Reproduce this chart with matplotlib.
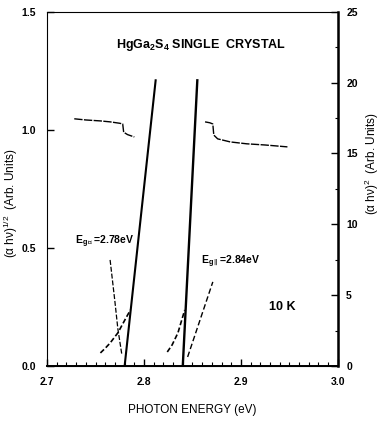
import numpy as np
import matplotlib
matplotlib.use("Agg")
from matplotlib import pyplot as plt

plt.rcParams['font.family'] = ['Liberation Sans Narrow', 'Liberation Sans', 'DejaVu Sans']
plt.rcParams['font.weight'] = 'bold'
plt.rcParams['mathtext.default'] = 'regular'

# flat spectra (left axis units)
flat1_x = [2.728, 2.740, 2.755, 2.765, 2.775, 2.778, 2.779, 2.783, 2.790]
flat1_y = [1.047, 1.042, 1.038, 1.034, 1.028, 1.025, 0.990, 0.980, 0.970]
flat2_x = [2.863, 2.868, 2.871, 2.872, 2.876, 2.889, 2.906, 2.925, 2.948]
flat2_y = [1.034, 1.030, 1.025, 0.978, 0.962, 0.949, 0.941, 0.936, 0.928]

# absorption edges: curved part, then straight extrapolation
edge1_x = [2.755, 2.760, 2.765, 2.773, 2.782, 2.786]
edge1_y = [0.055, 0.075, 0.097, 0.140, 0.208, 0.237]
edge2_x = [2.824, 2.829, 2.835, 2.842]
edge2_y = [0.059, 0.089, 0.140, 0.237]
fit1_x = [2.780, 2.812]
fit1_y = [0.0, 1.21]
fit2_x = [2.840, 2.855]
fit2_y = [0.0, 1.21]

# thin dashed lines below the labels
guide1_x = [2.765, 2.770, 2.773, 2.777]
guide1_y = [0.449, 0.271, 0.157, 0.051]
guide2_x = [2.845, 2.871]
guide2_y = [0.038, 0.356]

left_ticks = [0.0, 0.5, 1.0, 1.5]
right_ticks = [0, 5, 10, 15, 20, 25]
x_ticks = [2.7, 2.8, 2.9, 3.0]

fig = plt.figure(figsize=(3.8, 4.24), dpi=100)
ax = fig.add_axes([0.124, 0.137, 0.765, 0.835])

ax.plot(flat1_x, flat1_y, color='black', lw=1.0, ls=(0, (6, 1)))
ax.plot(flat2_x, flat2_y, color='black', lw=1.0, ls=(0, (6, 1)))
ax.plot(edge1_x, edge1_y, color='black', lw=1.2, ls=(0, (3, 1.5)))
ax.plot(edge2_x, edge2_y, color='black', lw=1.2, ls=(0, (3, 1.5)))
ax.plot(fit1_x, fit1_y, color='black', lw=1.5)
ax.plot(fit2_x, fit2_y, color='black', lw=1.7)
ax.plot(guide1_x, guide1_y, color='black', lw=0.9, ls=(0, (4, 1.5)))
ax.plot(guide2_x, guide2_y, color='black', lw=1.0, ls=(0, (4, 2)))

ax.set_xlim(2.7, 3.0)
ax.set_ylim(0, 1.5)
ax.set_xticks(x_ticks)
ax.set_xticklabels(['2.7', '2.8', '2.9', '3.0'], fontsize=7.5)
ax.set_xticks(np.arange(2.7, 3.0, 0.01), minor=True)
ax.set_yticks(left_ticks)
ax.set_yticklabels(['0.0', '0.5', '1.0', '1.5'], fontsize=7.5)
ax.tick_params(which='major', direction='in', length=5, width=1, pad=8)
ax.tick_params(which='minor', direction='in', length=3, width=0.8)

ax2 = ax.twinx()
ax2.set_ylim(0, 25)
ax2.set_yticks(right_ticks)
ax2.set_yticklabels([str(v) for v in right_ticks], fontsize=7.5)
ax2.set_yticks(np.arange(0, 25, 2.5), minor=True)
ax2.tick_params(which='major', direction='in', length=5, width=1, pad=6)
ax2.tick_params(which='minor', direction='in', length=2, width=0.8)
ax2.spines['right'].set_linewidth(1.8)
ax2.spines['top'].set_linestyle((0, (4, 1)))
ax2.spines['left'].set_linestyle((0, (4, 1)))
ax.spines['top'].set_visible(False)
ax.spines['left'].set_visible(False)
ax.spines['bottom'].set_linewidth(1.4)

ax.set_xlabel('PHOTON ENERGY (eV)', fontsize=8.5, labelpad=12)
ax.set_ylabel(r'($\alpha$ h$\nu$)$^{1/2}$  (Arb. Units)', fontsize=8.5)
ax2.set_ylabel(r'($\alpha$ h$\nu$)$^{2}$  (Arb. Units)', fontsize=8.5)
ax.yaxis.set_label_coords(-0.095, 0.46)
ax2.yaxis.set_label_coords(1.085, 0.57)

ax.text(2.859, 1.36, r'HgGa$_2$S$_4$ SINGLE  CRYSTAL', fontsize=9, ha='center', va='center')
ax.text(2.729, 0.525, r'E$_{g\perp}$=2.78eV', fontsize=7.5, ha='left', va='center')
ax.text(2.859, 0.44, r'E$_{g\parallel}$=2.84eV', fontsize=7.5, ha='left', va='center')
ax.text(2.943, 0.25, '10 K', fontsize=9, ha='center', va='center')

fig.savefig('out.png', dpi=100)
